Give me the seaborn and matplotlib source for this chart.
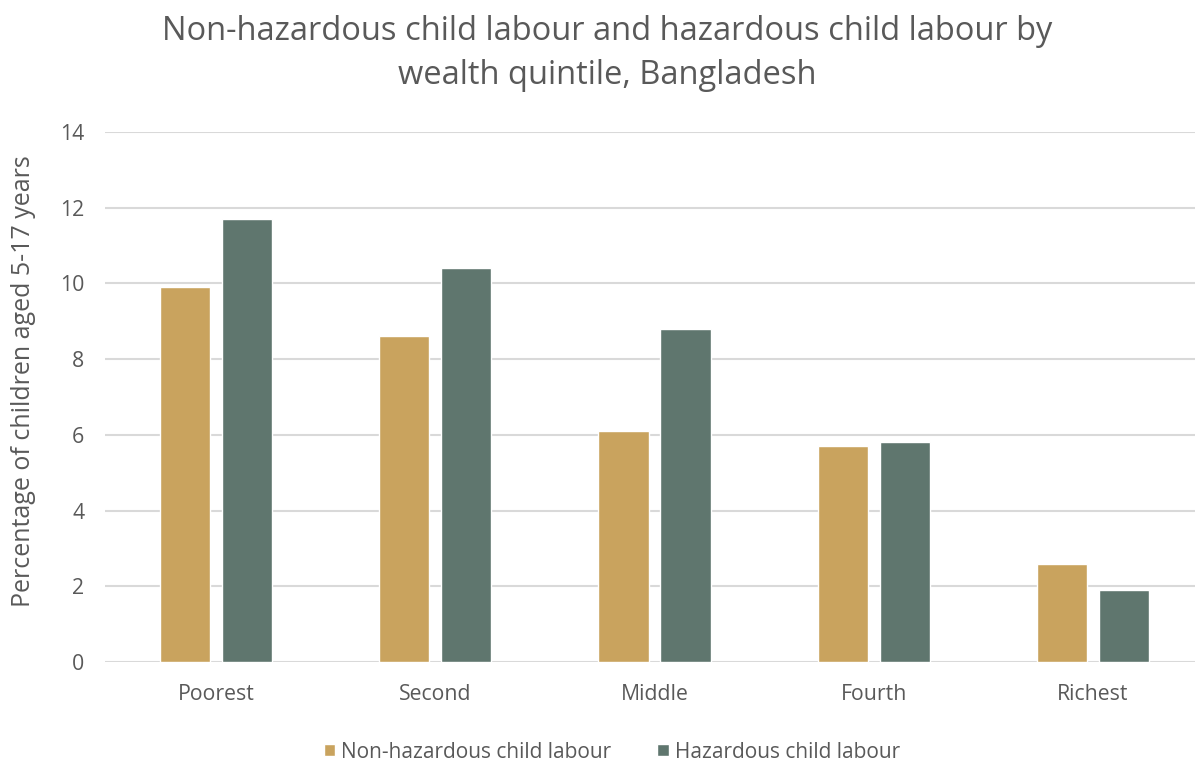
import matplotlib
matplotlib.use("Agg")
import matplotlib.pyplot as plt
import seaborn as sns
import pandas as pd

quintiles = ["Poorest", "Second", "Middle", "Fourth", "Richest"]
non_hazardous = [9.9, 8.6, 6.1, 5.7, 2.6]
hazardous = [11.7, 10.4, 8.8, 5.8, 1.9]
series_names = ["Non-hazardous child labour", "Hazardous child labour"]
y_ticks = [0, 2, 4, 6, 8, 10, 12, 14]

df = pd.DataFrame({
    "Quintile": quintiles * 2,
    "Value": non_hazardous + hazardous,
    "Series": [series_names[0]] * len(quintiles) + [series_names[1]] * len(quintiles),
})

sns.set_theme(style="white")
plt.rcParams["font.family"] = ["Open Sans", "DejaVu Sans"]

text_color = "#595959"
palette = {series_names[0]: "#C9A35E", series_names[1]: "#5F766E"}

fig = plt.figure(figsize=(11.95, 7.65), dpi=100)
ax = fig.add_axes([0.0879, 0.1346, 0.9121, 0.6929])

sns.barplot(data=df, x="Quintile", y="Value", hue="Series", order=quintiles,
            hue_order=series_names, palette=palette, width=0.566, gap=0.19,
            saturation=1, ax=ax, legend=True)

ax.set_xlim(-0.506, 4.465)
ax.set_ylim(0, 14)
ax.set_yticks(y_ticks)
ax.set_yticklabels([str(t) for t in y_ticks])
ax.yaxis.grid(True, color="#D9D9D9", linewidth=1.5)
ax.set_axisbelow(True)
for s in ax.spines.values():
    s.set_visible(False)
ax.tick_params(axis="both", length=0, colors=text_color, labelsize=15.3)
ax.tick_params(axis="x", pad=16)
ax.tick_params(axis="y", pad=15)
ax.set_xlabel("")
ax.set_ylabel("Percentage of children aged 5-17 years", color=text_color, fontsize=18)
ax.yaxis.set_label_coords(-0.063, 0.53)

leg = ax.legend(loc="lower center", bbox_to_anchor=(0.465, -0.225), ncol=2, frameon=False,
                fontsize=15, handlelength=0.55, handleheight=0.55, handletextpad=0.3,
                columnspacing=2.2)
for t in leg.get_texts():
    t.set_color(text_color)

fig.text(0.508, 0.981, "Non-hazardous child labour and hazardous child labour by\nwealth quintile, Bangladesh",
         ha="center", va="top", fontsize=23.5, color=text_color, linespacing=1.45)

fig.savefig("out.png", dpi=100, facecolor="white")
